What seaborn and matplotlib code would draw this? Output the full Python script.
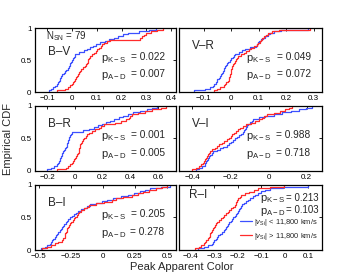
import matplotlib
matplotlib.use("Agg")
import matplotlib.pyplot as plt
import seaborn as sns
import pandas as pd
from matplotlib.ticker import FuncFormatter

# peak apparent colors, low-velocity (|v_Si| < 11,800) and high-velocity groups
bv_low = [-0.093, -0.085, -0.078, -0.070, -0.062, -0.058, -0.054, -0.050, -0.047, -0.043,
          -0.039, -0.033, -0.028, -0.023, -0.018, -0.013, -0.010, -0.007, -0.003, 0.000,
          0.003, 0.007, 0.010, 0.013, 0.030, 0.047, 0.060, 0.072, 0.083, 0.095,
          0.112, 0.132, 0.150, 0.168, 0.186, 0.205, 0.228, 0.27, 0.31, 0.34]
bv_high = [-0.06, -0.027, -0.018, -0.010, -0.002, 0.003, 0.006, 0.010, 0.015, 0.020,
           0.024, 0.028, 0.032, 0.038, 0.045, 0.051, 0.057, 0.062, 0.064, 0.066,
           0.067, 0.071, 0.079, 0.087, 0.095, 0.101, 0.108, 0.116, 0.123, 0.131,
           0.142, 0.153, 0.275, 0.283, 0.29, 0.30, 0.32, 0.345, 0.367]

vr_low = [-0.135, -0.095, -0.078, -0.065, -0.061, -0.057, -0.053, -0.050, -0.046, -0.042,
          -0.038, -0.034, -0.031, -0.028, -0.025, -0.022, -0.019, -0.016, -0.011, -0.005,
          0.000, 0.005, 0.010, 0.015, 0.027, 0.039, 0.051, 0.068, 0.089, 0.093,
          0.096, 0.100, 0.108, 0.116, 0.124, 0.133, 0.142, 0.156, 0.18, 0.28]
vr_high = [-0.062, -0.052, -0.040, -0.027, -0.023, -0.018, -0.013, -0.009, -0.007, -0.005,
           -0.003, -0.002, -0.001, 0.000, 0.001, 0.003, 0.007, 0.010, 0.013, 0.016,
           0.020, 0.026, 0.036, 0.045, 0.055, 0.064, 0.073, 0.082, 0.092, 0.098,
           0.103, 0.108, 0.113, 0.12, 0.127, 0.135, 0.15, 0.172, 0.285]

br_low = [-0.20, -0.176, -0.153, -0.130, -0.124, -0.118, -0.112, -0.106, -0.101, -0.097,
          -0.092, -0.087, -0.080, -0.073, -0.067, -0.060, -0.057, -0.054, -0.050, -0.047,
          -0.041, -0.036, -0.030, -0.024, 0.060, 0.100, 0.136, 0.166, 0.196, 0.224,
          0.252, 0.280, 0.315, 0.35, 0.385, 0.42, 0.47, 0.52, 0.555, 0.59]
br_high = [-0.13, -0.069, -0.051, -0.034, -0.025, -0.016, -0.007, 0.001, 0.008, 0.014,
           0.020, 0.025, 0.028, 0.031, 0.033, 0.037, 0.044, 0.050, 0.057, 0.066,
           0.078, 0.089, 0.101, 0.121, 0.146, 0.170, 0.189, 0.208, 0.29, 0.335,
           0.37, 0.39, 0.40, 0.415, 0.455, 0.505, 0.56, 0.62, 0.66]

vi_low = [-0.38, -0.363, -0.350, -0.336, -0.332, -0.328, -0.324, -0.320, -0.313, -0.305,
          -0.298, -0.290, -0.272, -0.255, -0.238, -0.220, -0.209, -0.198, -0.188, -0.177,
          -0.166, -0.155, -0.144, -0.133, -0.129, -0.124, -0.120, -0.115, -0.106, -0.098,
          -0.089, -0.080, -0.05, -0.018, 0.026, 0.07, 0.115, 0.16, 0.195, 0.23]
vi_high = [-0.40, -0.379, -0.366, -0.353, -0.346, -0.339, -0.333, -0.326, -0.322, -0.317,
           -0.313, -0.306, -0.295, -0.283, -0.272, -0.260, -0.246, -0.232, -0.219, -0.207,
           -0.199, -0.190, -0.181, -0.170, -0.159, -0.148, -0.136, -0.117, -0.093, -0.071,
           -0.048, -0.034, -0.022, -0.008, 0.030, 0.060, 0.087, 0.106, 0.124]

bi_low = [-0.48, -0.455, -0.435, -0.416, -0.406, -0.397, -0.387, -0.377, -0.367, -0.358,
          -0.348, -0.338, -0.328, -0.319, -0.310, -0.300, -0.290, -0.280, -0.270, -0.260,
          -0.243, -0.227, -0.211, -0.194, -0.171, -0.148, -0.125, -0.102, -0.056, -0.010,
          0.035, 0.080, 0.14, 0.20, 0.245, 0.29, 0.33, 0.37, 0.45, 0.526]
bi_high = [-0.475, -0.44, -0.406, -0.374, -0.348, -0.323, -0.311, -0.299, -0.296, -0.292,
           -0.288, -0.283, -0.277, -0.270, -0.264, -0.256, -0.246, -0.235, -0.225, -0.215,
           -0.205, -0.194, -0.184, -0.168, -0.147, -0.127, -0.106, -0.05, 0.01, 0.075,
           0.102, 0.16, 0.23, 0.275, 0.312, 0.36, 0.418, 0.46, 0.50]

ri_low = [-0.37, -0.345, -0.328, -0.310, -0.305, -0.300, -0.294, -0.289, -0.282, -0.275,
          -0.267, -0.260, -0.255, -0.250, -0.245, -0.240, -0.235, -0.229, -0.224, -0.218,
          -0.213, -0.208, -0.202, -0.197, -0.194, -0.190, -0.187, -0.183, -0.174, -0.166,
          -0.157, -0.148, -0.136, -0.124, -0.111, -0.099, -0.081, -0.063, -0.005, 0.10]
ri_high = [-0.38, -0.366, -0.355, -0.344, -0.338, -0.334, -0.328, -0.323, -0.319, -0.316,
           -0.313, -0.309, -0.305, -0.301, -0.298, -0.293, -0.286, -0.279, -0.272, -0.264,
           -0.257, -0.250, -0.243, -0.236, -0.228, -0.221, -0.213, -0.208, -0.205, -0.202,
           -0.198, -0.191, -0.184, -0.167, -0.15, -0.132, -0.113, -0.06, 0.0]

colors = ["B–V", "V–R", "B–R", "V–I", "B–I", "R–I"]
low_sets = [bv_low, vr_low, br_low, vi_low, bi_low, ri_low]
high_sets = [bv_high, vr_high, br_high, vi_high, bi_high, ri_high]
p_ks = ["0.022", "0.049", "0.001", "0.988", "0.205", "0.213"]
p_ad = ["0.007", "0.072", "0.005", "0.718", "0.278", "0.103"]
xlims = [(-0.15, 0.42), (-0.19, 0.33), (-0.29, 0.73), (-0.47, 0.28), (-0.53, 0.57), (-0.45, 0.16)]
xticks = [[-0.1, 0, 0.1, 0.2, 0.3, 0.4], [-0.1, 0, 0.1, 0.2, 0.3], [-0.2, 0, 0.2, 0.4, 0.6],
          [-0.4, -0.2, 0, 0.2], [-0.5, -0.25, 0, 0.25, 0.5], [-0.4, -0.3, -0.2, -0.1, 0, 0.1]]
n_sn = 79

sns.set_style("white")
plt.rcParams["font.family"] = ["Liberation Sans", "DejaVu Sans"]
plt.rcParams["mathtext.fontset"] = "custom"
plt.rcParams["mathtext.rm"] = "Liberation Sans"
plt.rcParams["mathtext.it"] = "Liberation Sans:italic"

blue = "#3c50ff"
red = "#ff2b2b"

fig = plt.figure(figsize=(3.42, 2.78), dpi=100)
lefts = [0.1023, 0.5234]
widths = [0.412, 0.418]
bottoms = [0.669, 0.385, 0.1007]
heights = [0.230, 0.234, 0.234]

fmt = FuncFormatter(lambda v, pos: ("%g" % v).replace("-", "\u2212"))

for i, name in enumerate(colors):
    r, c = divmod(i, 2)
    ax = fig.add_axes([lefts[c], bottoms[r], widths[c], heights[r]])
    df = pd.DataFrame({"color": low_sets[i] + high_sets[i],
                       "group": ["low"] * len(low_sets[i]) + ["high"] * len(high_sets[i])})
    sns.ecdfplot(data=df[df.group == "low"], x="color", ax=ax, color=blue, lw=0.9,
                 label=r"$|v_{\rm Si}|$ < 11,800 km/s")
    sns.ecdfplot(data=df[df.group == "high"], x="color", ax=ax, color=red, lw=0.9,
                 label=r"$|v_{\rm Si}|$ > 11,800 km/s")
    ax.set_xlim(*xlims[i])
    ax.set_ylim(0, 1)
    ax.set_xticks(xticks[i])
    ax.xaxis.set_major_formatter(fmt)
    ax.set_yticks([0, 0.5, 1])
    if c == 0:
        ax.set_yticklabels(["0", "0.5", "1"])
    else:
        ax.set_yticklabels([])
    ax.set_xlabel("")
    ax.set_ylabel("")
    ax.tick_params(direction="in", length=2, width=0.6, labelsize=5.8,
                   top=True, right=True, colors="black")
    ax.tick_params(axis="x", pad=2)
    ax.tick_params(axis="y", pad=2.5)
    for s in ax.spines.values():
        s.set_color("black")
        s.set_linewidth(0.9)

    if name == "R–I":
        ax.text(0.07, 0.80, name, transform=ax.transAxes, fontsize=8.5)
        ax.text(0.57, 0.75, r"$\mathrm{p_{K-S}}$", transform=ax.transAxes, fontsize=8)
        ax.text(0.98, 0.76, "= " + p_ks[i], transform=ax.transAxes, fontsize=7, ha="right")
        ax.text(0.57, 0.56, r"$\mathrm{p_{A-D}}$", transform=ax.transAxes, fontsize=8)
        ax.text(0.98, 0.57, "= " + p_ad[i], transform=ax.transAxes, fontsize=7, ha="right")
        ax.legend(loc="lower right", frameon=False, fontsize=5.4, handlelength=1.5,
                  handletextpad=0.3, labelspacing=0.35, borderaxespad=0.2,
                  bbox_to_anchor=(1.0, 0.06))
    else:
        ax.text(0.09, 0.58 if i == 0 else 0.68, name, transform=ax.transAxes, fontsize=8.5)
        ax.text(0.47, 0.49, r"$\mathrm{p_{K-S}}$", transform=ax.transAxes, fontsize=8)
        ax.text(0.92, 0.50, "= " + p_ks[i], transform=ax.transAxes, fontsize=7.3, ha="right")
        ax.text(0.47, 0.22, r"$\mathrm{p_{A-D}}$", transform=ax.transAxes, fontsize=8)
        ax.text(0.92, 0.23, "= " + p_ad[i], transform=ax.transAxes, fontsize=7.3, ha="right")
    if i == 0:
        ax.text(0.08, 0.83, r"$\mathrm{N_{SN}}$ = %d" % n_sn, transform=ax.transAxes, fontsize=7)

fig.text(0.022, 0.5, "Empirical CDF", rotation=90, va="center", ha="center", fontsize=8)
fig.text(0.53, 0.038, "Peak Apparent Color", va="center", ha="center", fontsize=8)

fig.savefig("out.png", dpi=100)
